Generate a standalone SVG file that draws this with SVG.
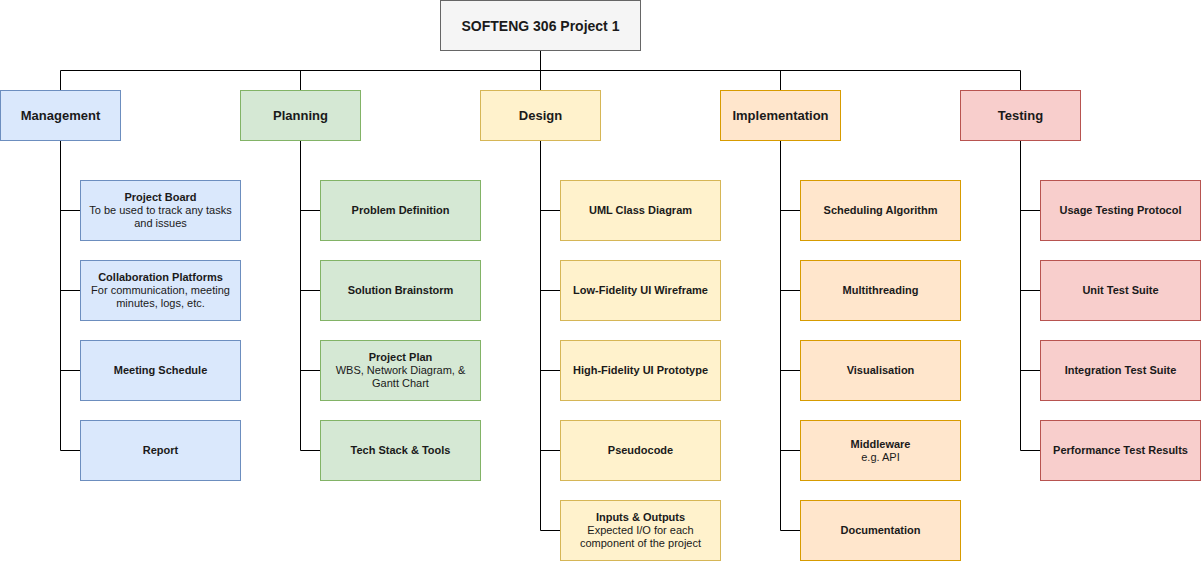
<svg xmlns="http://www.w3.org/2000/svg" width="1201" height="561" viewBox="0 0 1201 561">
<style>
text{font-family:"Liberation Sans",Arial,sans-serif;fill:#1a1a1a;text-anchor:middle}
.t{font-size:14px;font-weight:bold}
.c{font-size:13px;font-weight:bold}
.b{font-size:11px;font-weight:bold}
.n{font-size:11px}
.gray{fill:#f5f5f5;stroke:#666666}
.blue{fill:#dae8fc;stroke:#6c8ebf}
.green{fill:#d5e8d4;stroke:#82b366}
.yellow{fill:#fff2cc;stroke:#d6b656}
.orange{fill:#ffe6cc;stroke:#d79b00}
.red{fill:#f8cecc;stroke:#b85450}
rect{stroke-width:1}
#connectors path{fill:none;stroke:#000;stroke-width:1}
</style>
<rect width="1201" height="561" fill="#ffffff"/>
<g id="connectors">
<path d="M540.5 50.5V70.5M60.5 70.5H1020.5M60.5 70.5V90.5M300.5 70.5V90.5M540.5 70.5V90.5M780.5 70.5V90.5M1020.5 70.5V90.5"/>
<path d="M60.5 140.5V450.5M60.5 210.5H80.5M60.5 290.5H80.5M60.5 370.5H80.5M60.5 450.5H80.5"/>
<path d="M300.5 140.5V450.5M300.5 210.5H320.5M300.5 290.5H320.5M300.5 370.5H320.5M300.5 450.5H320.5"/>
<path d="M540.5 140.5V530.5M540.5 210.5H560.5M540.5 290.5H560.5M540.5 370.5H560.5M540.5 450.5H560.5M540.5 530.5H560.5"/>
<path d="M780.5 140.5V530.5M780.5 210.5H800.5M780.5 290.5H800.5M780.5 370.5H800.5M780.5 450.5H800.5M780.5 530.5H800.5"/>
<path d="M1020.5 140.5V450.5M1020.5 210.5H1040.5M1020.5 290.5H1040.5M1020.5 370.5H1040.5M1020.5 450.5H1040.5"/>
</g>
<g id="root"><rect class="gray" x="440.5" y="0.5" width="200" height="50"/><text class="t" x="540.5" y="30.5">SOFTENG 306 Project 1</text></g>

<g id="management"><rect class="blue" x="0.5" y="90.5" width="120" height="50"/><text class="c" x="60.5" y="120">Management</text></g>
<g id="planning"><rect class="green" x="240.5" y="90.5" width="120" height="50"/><text class="c" x="300.5" y="120">Planning</text></g>
<g id="design"><rect class="yellow" x="480.5" y="90.5" width="120" height="50"/><text class="c" x="540.5" y="120">Design</text></g>
<g id="implementation"><rect class="orange" x="720.5" y="90.5" width="120" height="50"/><text class="c" x="780.5" y="120">Implementation</text></g>
<g id="testing"><rect class="red" x="960.5" y="90.5" width="120" height="50"/><text class="c" x="1020.5" y="120">Testing</text></g>

<g id="m1"><rect class="blue" x="80.5" y="180.5" width="160" height="60"/><text class="b" x="160.5" y="201">Project Board</text><text class="n" x="160.5" y="214">To be used to track any tasks</text><text class="n" x="160.5" y="227">and issues</text></g>
<g id="m2"><rect class="blue" x="80.5" y="260.5" width="160" height="60"/><text class="b" x="160.5" y="281">Collaboration Platforms</text><text class="n" x="160.5" y="294">For communication, meeting</text><text class="n" x="160.5" y="307">minutes, logs, etc.</text></g>
<g id="m3"><rect class="blue" x="80.5" y="340.5" width="160" height="60"/><text class="b" x="160.5" y="374">Meeting Schedule</text></g>
<g id="m4"><rect class="blue" x="80.5" y="420.5" width="160" height="60"/><text class="b" x="160.5" y="454">Report</text></g>

<g id="p1"><rect class="green" x="320.5" y="180.5" width="160" height="60"/><text class="b" x="400.5" y="214">Problem Definition</text></g>
<g id="p2"><rect class="green" x="320.5" y="260.5" width="160" height="60"/><text class="b" x="400.5" y="294">Solution Brainstorm</text></g>
<g id="p3"><rect class="green" x="320.5" y="340.5" width="160" height="60"/><text class="b" x="400.5" y="361">Project Plan</text><text class="n" x="400.5" y="374">WBS, Network Diagram, &amp;</text><text class="n" x="400.5" y="387">Gantt Chart</text></g>
<g id="p4"><rect class="green" x="320.5" y="420.5" width="160" height="60"/><text class="b" x="400.5" y="454">Tech Stack &amp; Tools</text></g>

<g id="d1"><rect class="yellow" x="560.5" y="180.5" width="160" height="60"/><text class="b" x="640.5" y="214">UML Class Diagram</text></g>
<g id="d2"><rect class="yellow" x="560.5" y="260.5" width="160" height="60"/><text class="b" x="640.5" y="294">Low-Fidelity UI Wireframe</text></g>
<g id="d3"><rect class="yellow" x="560.5" y="340.5" width="160" height="60"/><text class="b" x="640.5" y="374">High-Fidelity UI Prototype</text></g>
<g id="d4"><rect class="yellow" x="560.5" y="420.5" width="160" height="60"/><text class="b" x="640.5" y="454">Pseudocode</text></g>
<g id="d5"><rect class="yellow" x="560.5" y="500.5" width="160" height="60"/><text class="b" x="640.5" y="521">Inputs &amp; Outputs</text><text class="n" x="640.5" y="534">Expected I/O for each</text><text class="n" x="640.5" y="547">component of the project</text></g>

<g id="i1"><rect class="orange" x="800.5" y="180.5" width="160" height="60"/><text class="b" x="880.5" y="214">Scheduling Algorithm</text></g>
<g id="i2"><rect class="orange" x="800.5" y="260.5" width="160" height="60"/><text class="b" x="880.5" y="294">Multithreading</text></g>
<g id="i3"><rect class="orange" x="800.5" y="340.5" width="160" height="60"/><text class="b" x="880.5" y="374">Visualisation</text></g>
<g id="i4"><rect class="orange" x="800.5" y="420.5" width="160" height="60"/><text class="b" x="880.5" y="448">Middleware</text><text class="n" x="880.5" y="461">e.g. API</text></g>
<g id="i5"><rect class="orange" x="800.5" y="500.5" width="160" height="60"/><text class="b" x="880.5" y="534">Documentation</text></g>

<g id="t1"><rect class="red" x="1040.5" y="180.5" width="160" height="60"/><text class="b" x="1120.5" y="214">Usage Testing Protocol</text></g>
<g id="t2"><rect class="red" x="1040.5" y="260.5" width="160" height="60"/><text class="b" x="1120.5" y="294">Unit Test Suite</text></g>
<g id="t3"><rect class="red" x="1040.5" y="340.5" width="160" height="60"/><text class="b" x="1120.5" y="374">Integration Test Suite</text></g>
<g id="t4"><rect class="red" x="1040.5" y="420.5" width="160" height="60"/><text class="b" x="1120.5" y="454">Performance Test Results</text></g>
</svg>
